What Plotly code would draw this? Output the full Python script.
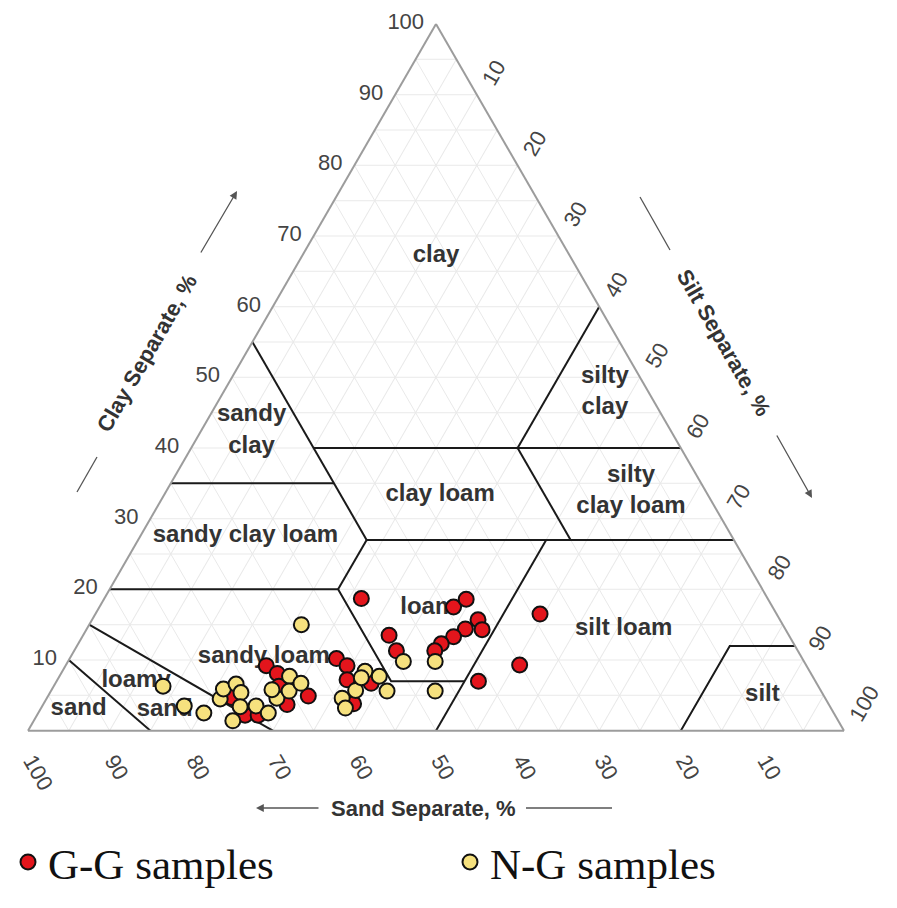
import plotly.graph_objects as go

# ---------------- data (sand %, silt %, clay %) ----------------
gg_sand = [49.8, 39.1, 37.0, 29.0, 49.0, 37.0, 37.2, 39.2, 41.2, 43.2, 44.5, 49.2, 35.1, 41.3,
           57.1, 56.3, 57.3, 54.6, 58.2, 66.2, 65.4, 63.2, 66.4, 72.7, 72.3, 66.1, 70.7]
gg_silt = [31.5, 43.4, 44.4, 54.5, 37.5, 47.3, 48.5, 46.4, 45.5, 44.5, 44.2, 39.5, 55.6, 51.7,
           32.7, 34.5, 35.5, 38.7, 38.0, 24.6, 26.5, 31.9, 29.9, 22.6, 25.5, 27.6, 27.1]
gg_clay = [18.7, 17.5, 18.6, 16.5, 13.5, 15.7, 14.3, 14.4, 13.3, 12.3, 11.3, 11.3, 9.3, 7.0,
           10.2, 9.2, 7.2, 6.7, 3.8, 9.2, 8.1, 4.9, 3.7, 4.7, 2.2, 6.3, 2.2]

ng_sand = [59.0, 80.3, 79.1, 77.2, 74.2, 73.1, 71.2, 71.2, 72.3, 74.2, 70.3, 69.3, 67.2, 67.2,
           64.1, 65.2, 63.2, 49.1, 45.2, 47.3, 54.5, 53.1, 53.2, 57.0, 59.2, 59.5, 55.4]
ng_silt = [26.0, 13.4, 17.4, 20.3, 21.3, 21.0, 22.2, 23.4, 24.3, 24.4, 26.2, 28.2, 28.2, 27.0,
           28.2, 29.2, 30.1, 41.1, 45.0, 47.1, 37.1, 39.2, 41.2, 37.3, 36.2, 37.3, 37.1]
ng_clay = [15.0, 6.3, 3.5, 2.5, 4.5, 5.9, 6.6, 5.4, 3.4, 1.4, 3.5, 2.5, 4.6, 5.8,
           7.7, 5.6, 6.7, 9.8, 9.8, 5.6, 8.4, 7.7, 5.6, 5.7, 4.6, 3.2, 7.5]

# USDA texture class boundaries: each is a list of (sand, silt, clay)
boundary_sand_loamysand = [(85, 15, 0), (90, 0, 10)]
boundary_loamysand_sandyloam = [(70, 30, 0), (85, 0, 15)]
boundary_sandyloam_top = [(80, 0, 20), (52, 28, 20), (52, 41, 7), (43, 50, 7)]
boundary_silt50 = [(50, 50, 0), (23, 50, 27)]
boundary_silt = [(20, 80, 0), (8, 80, 12), (0, 88, 12)]
boundary_loam_scl = [(52, 28, 20), (45, 28, 27)]
boundary_clay27 = [(45, 28, 27), (0, 73, 27)]
boundary_sand45 = [(45, 28, 27), (45, 0, 55)]
boundary_clay35 = [(65, 0, 35), (45, 20, 35)]
boundary_clay40 = [(45, 15, 40), (0, 60, 40)]
boundary_sand20 = [(20, 53, 27), (20, 40, 40)]
boundary_silt40 = [(20, 40, 40), (0, 40, 60)]
boundaries = [boundary_sand_loamysand, boundary_loamysand_sandyloam, boundary_sandyloam_top,
              boundary_silt50, boundary_silt, boundary_loam_scl, boundary_clay27,
              boundary_sand45, boundary_clay35, boundary_clay40, boundary_sand20,
              boundary_silt40]

# texture class labels
label_text = ["clay", "silty<br>clay", "sandy<br>clay", "clay loam", "silty<br>clay loam",
              "sandy clay loam", "loam", "silt loam", "sandy loam", "loamy", "sand",
              "sand", "silt"]
label_sand = [16.4, 5.4, 51.4, 32.8, 9.2, 59.6, 42.3, 19.8, 65.9, 83.2, 81.8, 92.3, 7.5]
label_silt = [16.4, 46.8, 6.2, 33.8, 57.0, 12.9, 40.4, 65.8, 23.7, 9.7, 15.3, 4.7, 87.5]
label_clay = [67.2, 47.8, 42.4, 33.4, 33.8, 27.5, 17.3, 14.4, 10.4, 7.1, 2.9, 3.0, 5.0]

tick_vals = [5, 10, 15, 20, 25, 30, 35, 40, 45, 50, 55, 60, 65, 70, 75, 80, 85, 90, 95, 100]
tick_text = ["", "10", "", "20", "", "30", "", "40", "", "50", "", "60", "", "70", "", "80",
             "", "90", "", "100"]

# ---------------- figure ----------------
W, H = 897, 908
BODY = 8  # default page margin of the html body


def px(x):
    """screen pixel x -> paper fraction"""
    return (x - BODY) / W


def py(y):
    """screen pixel y -> paper fraction"""
    return 1 - (y - BODY) / H


fig = go.Figure()

for seg in boundaries:
    fig.add_trace(go.Scatterternary(
        b=[p[0] for p in seg], c=[p[1] for p in seg], a=[p[2] for p in seg],
        mode="lines", line=dict(color="#1a1a1a", width=2),
        hoverinfo="skip", showlegend=False))

fig.add_trace(go.Scatterternary(
    b=label_sand, c=label_silt, a=label_clay, mode="text",
    text=["<b>%s</b>" % t for t in label_text],
    textfont=dict(family="Liberation Sans, Arial, sans-serif", size=24, color="#333333"),
    hoverinfo="skip", showlegend=False))

marker_line = dict(color="#111111", width=2)
fig.add_trace(go.Scatterternary(
    b=gg_sand, c=gg_silt, a=gg_clay, mode="markers", name="G-G samples",
    marker=dict(size=15, color="#e3151c", line=marker_line)))
fig.add_trace(go.Scatterternary(
    b=ng_sand, c=ng_silt, a=ng_clay, mode="markers", name="N-G samples",
    marker=dict(size=15, color="#f6e17e", line=marker_line)))

tickfont = dict(family="Liberation Sans, Arial, sans-serif", size=22, color="#444444")
axis_common = dict(tickmode="array", tickvals=tick_vals, ticktext=tick_text,
                   showgrid=True, gridcolor="#e9e9e9", gridwidth=1,
                   showline=True, linecolor="#9c9c9c", linewidth=2,
                   ticks="outside", ticklen=8, tickcolor="rgba(0,0,0,0)",
                   tickfont=tickfont, title=dict(text=""))

fig.update_layout(
    width=W, height=H,
    margin=dict(l=0, r=0, t=0, b=0),
    paper_bgcolor="white",
    ternary=dict(
        sum=100,
        bgcolor="white",
        domain=dict(x=[px(28), px(844)], y=[py(730.7), py(24)]),
        aaxis=dict(axis_common),
        baxis=dict(axis_common, tickangle=60),
        caxis=dict(axis_common, tickangle=-60),
    ),
    legend=dict(orientation="h", x=0, xanchor="left", y=py(862), yanchor="middle",
                font=dict(family="Liberation Serif, Times New Roman, serif", size=43,
                          color="#111111"),
                entrywidth=397, itemsizing="trace", bgcolor="rgba(0,0,0,0)"),
)

title_font = dict(family="Liberation Sans, Arial, sans-serif", size=22, color="#333333")
arrow_col = "#555555"

annotations = [
    dict(text="<b>Clay Separate, %</b>", x=px(147), y=py(354), xref="paper", yref="paper",
         xanchor="center", yanchor="middle",
         showarrow=False, textangle=-60, font=title_font),
    dict(text="<b>Silt Separate, %</b>", x=px(724), y=py(342), xref="paper", yref="paper",
         xanchor="center", yanchor="middle",
         showarrow=False, textangle=60, font=title_font),
    dict(text="<b>Sand Separate, %</b>", x=px(423), y=py(808), xref="paper", yref="paper",
         xanchor="center", yanchor="middle",
         showarrow=False, font=title_font),
    # arrows
    dict(text="", x=px(237), y=py(191), xref="paper", yref="paper", showarrow=True,
         axref="pixel", ayref="pixel", ax=200 - 237, ay=254 - 191,
         arrowhead=2, arrowsize=1.2, arrowwidth=1.3, arrowcolor=arrow_col),
    dict(text="", x=px(812), y=py(498), xref="paper", yref="paper", showarrow=True,
         axref="pixel", ayref="pixel", ax=776 - 812, ay=434 - 498,
         arrowhead=2, arrowsize=1.2, arrowwidth=1.3, arrowcolor=arrow_col),
    dict(text="", x=px(256), y=py(808), xref="paper", yref="paper", showarrow=True,
         axref="pixel", ayref="pixel", ax=320 - 256, ay=0,
         arrowhead=2, arrowsize=1.2, arrowwidth=1.3, arrowcolor=arrow_col),
]

shapes = [
    dict(type="line", xref="paper", yref="paper", x0=px(77), y0=py(492), x1=px(97), y1=py(457),
         line=dict(color=arrow_col, width=1.3)),
    dict(type="line", xref="paper", yref="paper", x0=px(640), y0=py(197), x1=px(670), y1=py(250),
         line=dict(color=arrow_col, width=1.3)),
    dict(type="line", xref="paper", yref="paper", x0=px(526), y0=py(808), x1=px(612), y1=py(808),
         line=dict(color=arrow_col, width=1.3)),
]

fig.update_layout(annotations=annotations, shapes=shapes)

fig.write_html("out.html")
